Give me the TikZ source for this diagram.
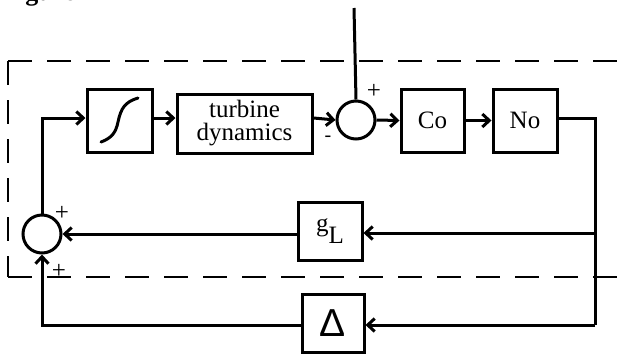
\documentclass[tikz,border=0pt]{standalone}
\usepackage{fontspec}
\setmainfont{Liberation Serif}
\newfontfamily\deltafont{Liberation Sans}
\usetikzlibrary{arrows.meta}
\begin{document}
\begin{tikzpicture}[x=1pt,y=-1pt,
  blk/.style={draw,line width=3pt,inner sep=0pt,font=\fontsize{25}{23}\selectfont},
  sumc/.style={draw,circle,line width=3pt,minimum size=38pt,inner sep=0pt},
  conn/.style={line width=3pt},
  arr/.style={conn,-{Straight Barb[length=7pt,width=13pt]}},
  dsh/.style={line width=1.3pt,dash pattern=on 24pt off 15pt},
  sgn/.style={font=\fontsize{25}{25}\selectfont,inner sep=0pt}]
\useasboundingbox (0,0) rectangle (628,354);
% title (cut off at top)
\node[anchor=base west,inner sep=0pt,font=\bfseries\fontsize{26}{26}\selectfont] (title) at (2,0.5) {Figure 11};
% dashed frame
\draw[dsh] (8,61) -- (640,61);
\draw[dsh] (8,61) -- (8,277);
\draw[dsh] (8,277) -- (640,277);
% blocks
\node[blk,minimum width=65pt,minimum height=63pt] (sat) at (119.5,120.5) {};
\draw[line width=3pt,line cap=round] (101,142) .. controls (112,138) and (116,132) .. (118,122) .. controls (121,108) and (125,102) .. (138,98);
\node[blk,minimum width=135pt,minimum height=59pt,align=center] (turb) at (244.5,123.5) {turbine\\dynamics};
\node[sumc] (s1) at (356,120) {};
\node[blk,minimum width=63pt,minimum height=63pt] (co) at (432.5,120.5) {Co};
\node[blk,minimum width=64pt,minimum height=63pt] (no) at (525,120.5) {No};
\node[blk,minimum width=64pt,minimum height=58pt] (gl) at (330,231) {g\raisebox{-12pt}{L}};
\node[blk,minimum width=62pt,minimum height=58pt,font=\deltafont\fontsize{39}{39}\selectfont] (dl) at (333,323) {Δ};
\node[sumc] (s2) at (42,234) {};
% coordinates
\coordinate (in) at (354,8);
\coordinate (r1) at (595,118);
\coordinate (r2) at (595,233);
\coordinate (r3) at (595,325);
\coordinate (l1) at (42,118);
\coordinate (l3) at (42,325);
% connectors
\draw[conn] (in) -- (s1.north);
\draw[arr] (sat.east |- l1) -- (turb.west |- l1);
\draw[arr] (turb.east |- l1) -- (s1.west);
\draw[arr] (s1.east) -- (co.west);
\draw[arr] (co.east) -- (no.west);
\draw[conn] (no.east |- r1) -- (r1) -- (r3);
\draw[arr] (r2) -- (gl.east |- r2);
\draw[arr] (r3) -- (dl.east |- r3);
\draw[arr] (gl.west |- s2) -- (s2.east);
\draw[arr] (dl.west |- l3) -- (l3) -- (s2.south);
\draw[arr] (s2.north) -- (l1) -- (sat.west |- l1);
% signs
\node[sgn] (p1) at (374,91) {+};
\node[sgn,font=\fontsize{20}{20}\selectfont] (m1) at (328,139) {-};
\node[sgn] (p2) at (62,213) {+};
\node[sgn] (p3) at (59,271) {+};
\end{tikzpicture}
\end{document}
